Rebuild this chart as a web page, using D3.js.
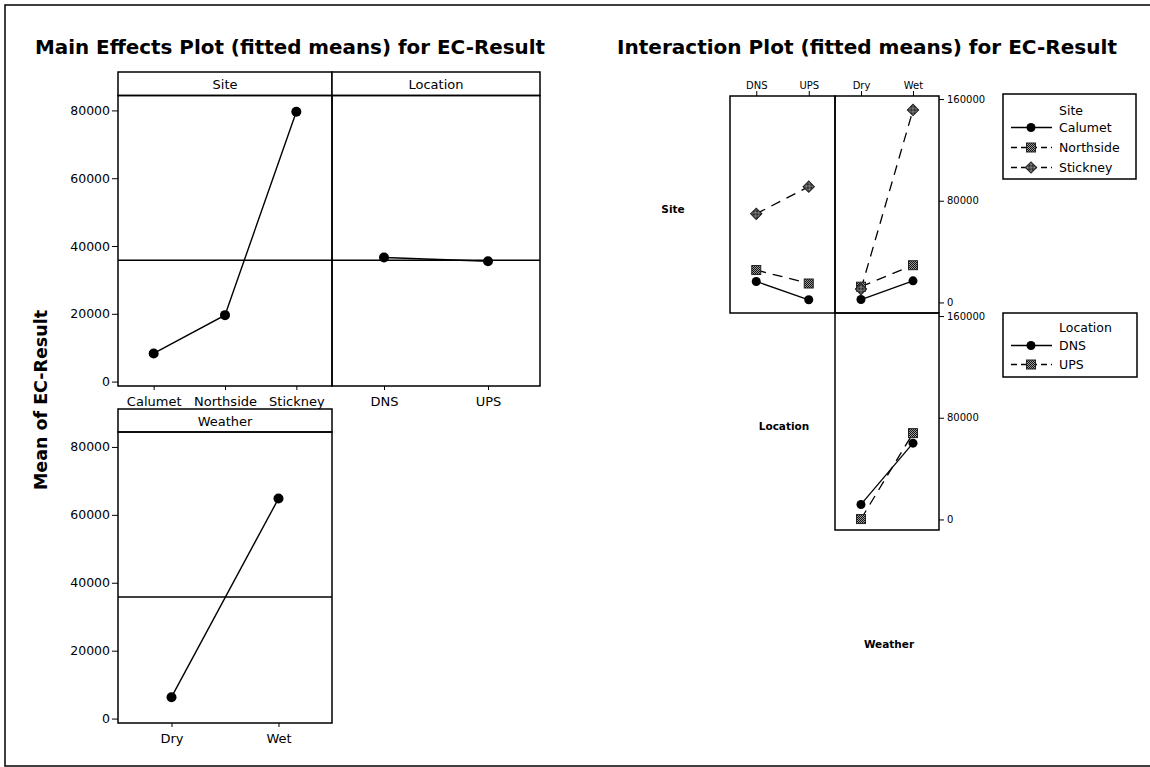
<!DOCTYPE html>
<html><head><meta charset="utf-8">
<script src="https://cdn.jsdelivr.net/npm/d3@7"></script>
<style>
body{margin:0;background:#fff}
svg{display:block}
text{font-family:"DejaVu Sans",Verdana,sans-serif;fill:#000}
</style>
</head><body>
<svg id="c" width="1150" height="767"></svg>
<script>
// ---------- data ----------
const siteCats = ["Calumet", "Northside", "Stickney"];
const locationCats = ["DNS", "UPS"];
const weatherCats = ["Dry", "Wet"];

// main effects (fitted means)
const siteMeans = [8300, 19600, 79600];
const locationMeans = [36600, 35500];
const weatherMeans = [6300, 64800];
const grandMean = 35800;
const meTicks = [0, 20000, 40000, 60000, 80000];

// interaction (fitted means)
const calumetByLocation = [16500, 2100];
const northsideByLocation = [25500, 14900];
const stickneyByLocation = [69700, 91100];
const calumetByWeather = [2300, 17000];
const northsideByWeather = [12400, 29300];
const stickneyByWeather = [10500, 151400];
const dnsByWeather = [11800, 60000];
const upsByWeather = [300, 67900];
const ipTicks = [0, 80000, 160000];

// ---------- setup ----------
const svg = d3.select("#c");
const defs = svg.append("defs");
const pat = defs.append("pattern").attr("id", "hatch").attr("width", 2).attr("height", 2)
  .attr("patternUnits", "userSpaceOnUse");
pat.append("rect").attr("width", 2).attr("height", 2).attr("fill", "#9a9a9a");
pat.append("rect").attr("x", 0).attr("y", 0).attr("width", 1).attr("height", 1).attr("fill", "#111");
pat.append("rect").attr("x", 1).attr("y", 1).attr("width", 1).attr("height", 1).attr("fill", "#111");

// outer border
svg.append("rect").attr("x", 5).attr("y", 5).attr("width", 1160).attr("height", 761)
  .attr("fill", "none").attr("stroke", "#000").attr("stroke-width", 1.5);

// titles
svg.append("text").attr("x", 35).attr("y", 54).attr("font-size", 19).attr("font-weight", "bold")
  .attr("textLength", 510).attr("lengthAdjust", "spacingAndGlyphs")
  .text("Main Effects Plot (fitted means) for EC-Result");
svg.append("text").attr("x", 617).attr("y", 54).attr("font-size", 19).attr("font-weight", "bold")
  .attr("textLength", 500).attr("lengthAdjust", "spacingAndGlyphs")
  .text("Interaction Plot (fitted means) for EC-Result");

// y label
svg.append("text").attr("transform", "translate(47,400) rotate(-90)")
  .attr("text-anchor", "middle").attr("font-size", 17).attr("font-weight", "bold")
  .attr("textLength", 180).attr("lengthAdjust", "spacingAndGlyphs")
  .text("Mean of EC-Result");

// ---------- main effects panels ----------
function mePanel(cats, values, x0, x1, boxTop, stripBottom, boxBottom, title, showY) {
  const g = svg.append("g");
  const y = d3.scaleLinear().domain([-1300, 84400]).range([boxBottom, stripBottom]);
  const x = d3.scalePoint().domain(cats).range([x0, x1]).padding(0.5);
  g.append("rect").attr("x", x0).attr("y", boxTop).attr("width", x1 - x0).attr("height", stripBottom - boxTop)
    .attr("fill", "#fff").attr("stroke", "#000").attr("stroke-width", 1.5);
  g.append("text").attr("x", (x0 + x1) / 2).attr("y", (boxTop + stripBottom) / 2 + 5)
    .attr("text-anchor", "middle").attr("font-size", 13).text(title);
  g.append("rect").attr("x", x0).attr("y", stripBottom).attr("width", x1 - x0).attr("height", boxBottom - stripBottom)
    .attr("fill", "none").attr("stroke", "#000").attr("stroke-width", 1.5);
  g.append("line").attr("x1", x0).attr("x2", x1).attr("y1", y(grandMean)).attr("y2", y(grandMean))
    .attr("stroke", "#000").attr("stroke-width", 1.4);
  const xa = g.append("g").attr("transform", `translate(0,${boxBottom})`)
    .call(d3.axisBottom(x).tickSize(4).tickPadding(7));
  xa.select(".domain").remove();
  xa.selectAll("text").attr("font-size", 13).attr("font-family", "DejaVu Sans").attr("fill", "#000");
  xa.selectAll("line").attr("stroke", "#000");
  if (showY) {
    const ya = g.append("g").attr("transform", `translate(${x0},0)`)
      .call(d3.axisLeft(y).tickValues(meTicks).tickSize(6).tickPadding(2).tickFormat(d3.format("d")));
    ya.select(".domain").remove();
    ya.selectAll("text").attr("font-size", 12.5).attr("font-family", "DejaVu Sans").attr("fill", "#000");
    ya.selectAll("line").attr("stroke", "#000");
  }
  g.append("path").datum(values)
    .attr("d", d3.line().x((d, i) => x(cats[i])).y(d => y(d)))
    .attr("fill", "none").attr("stroke", "#000").attr("stroke-width", 1.4);
  g.selectAll("circle.pt").data(values).join("circle").attr("class", "pt")
    .attr("cx", (d, i) => x(cats[i])).attr("cy", d => y(d)).attr("r", 5).attr("fill", "#000");
}
mePanel(siteCats, siteMeans, 118, 332, 72, 95.5, 386, "Site", true);
mePanel(locationCats, locationMeans, 332, 540, 72, 95.5, 386, "Location", false);
mePanel(weatherCats, weatherMeans, 118, 332, 409, 432, 723, "Weather", true);

// ---------- interaction plot ----------
const siteStyles = [
  {name: "Calumet", dash: null, marker: "circle"},
  {name: "Northside", dash: "10,7", marker: "square"},
  {name: "Stickney", dash: "10,7", marker: "diamond"}
];
const locStyles = [
  {name: "DNS", dash: null, marker: "circle"},
  {name: "UPS", dash: "10,7", marker: "square"}
];

function marker(g, type, cx, cy) {
  if (type === "circle") {
    g.append("circle").attr("cx", cx).attr("cy", cy).attr("r", 4.5).attr("fill", "#000");
  } else if (type === "square") {
    g.append("rect").attr("x", cx - 4.5).attr("y", cy - 4.5).attr("width", 9).attr("height", 9)
      .attr("fill", "url(#hatch)").attr("stroke", "#222").attr("stroke-width", 1);
  } else {
    g.append("rect").attr("x", -4).attr("y", -4).attr("width", 8).attr("height", 8)
      .attr("transform", `translate(${cx},${cy}) rotate(45)`)
      .attr("fill", "url(#hatch)").attr("stroke", "#222").attr("stroke-width", 1);
  }
}

function ipPanel(cats, seriesVals, styles, x0, x1, top, bottom, topAxis, rightAxis) {
  const g = svg.append("g");
  const x = d3.scalePoint().domain(cats).range([x0, x1]).padding(0.5);
  const y = d3.scaleLinear().domain([-8300, 162400]).range([bottom, top]);
  g.append("rect").attr("x", x0).attr("y", top).attr("width", x1 - x0).attr("height", bottom - top)
    .attr("fill", "none").attr("stroke", "#000").attr("stroke-width", 1.5);
  if (topAxis) {
    const ta = g.append("g").attr("transform", `translate(0,${top})`)
      .call(d3.axisTop(x).tickSize(5).tickPadding(2));
    ta.select(".domain").remove();
    ta.selectAll("text").attr("font-size", 10).attr("font-family", "DejaVu Sans").attr("fill", "#000");
    ta.selectAll("line").attr("stroke", "#000");
  }
  if (rightAxis) {
    const ra = g.append("g").attr("transform", `translate(${x1},0)`)
      .call(d3.axisRight(y).tickValues(ipTicks).tickSize(5).tickPadding(3).tickFormat(d3.format("d")));
    ra.select(".domain").remove();
    ra.selectAll("text").attr("font-size", 10).attr("font-family", "DejaVu Sans").attr("fill", "#000");
    ra.selectAll("line").attr("stroke", "#000");
  }
  seriesVals.forEach((vals, k) => {
    const st = styles[k];
    g.append("path").datum(vals)
      .attr("d", d3.line().x((d, i) => x(cats[i])).y(d => y(d)))
      .attr("fill", "none").attr("stroke", "#000").attr("stroke-width", 1.3)
      .attr("stroke-dasharray", st.dash);
  });
  seriesVals.forEach((vals, k) => {
    vals.forEach((v, i) => marker(g, styles[k].marker, x(cats[i]), y(v)));
  });
}

ipPanel(locationCats, [calumetByLocation, northsideByLocation, stickneyByLocation], siteStyles,
  730, 835, 96, 313, true, false);
ipPanel(weatherCats, [calumetByWeather, northsideByWeather, stickneyByWeather], siteStyles,
  835, 939, 96, 313, true, true);
ipPanel(weatherCats, [dnsByWeather, upsByWeather], locStyles,
  835, 939, 313, 530, false, true);

// diagonal labels
[["Site", 673, 213], ["Location", 784, 430], ["Weather", 889, 648]].forEach(([t, cx, cy]) => {
  svg.append("text").attr("x", cx).attr("y", cy).attr("text-anchor", "middle")
    .attr("font-size", 10.5).attr("font-weight", "bold").text(t);
});

// legends
function legend(title, styles, x0, y0, w, h, rowY) {
  const g = svg.append("g");
  g.append("rect").attr("x", x0).attr("y", y0).attr("width", w).attr("height", h)
    .attr("fill", "#fff").attr("stroke", "#000").attr("stroke-width", 1.5);
  g.append("text").attr("x", 1059).attr("y", rowY[0] + 4.5).attr("font-size", 12.5).text(title);
  styles.forEach((st, k) => {
    const yy = rowY[k + 1];
    g.append("line").attr("x1", 1011).attr("x2", 1052).attr("y1", yy).attr("y2", yy)
      .attr("stroke", "#000").attr("stroke-width", 1.3).attr("stroke-dasharray", st.dash ? "6,4" : null);
    marker(g, st.marker, 1031, yy);
    g.append("text").attr("x", 1059).attr("y", yy + 4.5).attr("font-size", 12.5).text(st.name);
  });
}
legend("Site", siteStyles, 1003, 94, 133, 85, [110, 127.5, 147.5, 167.5]);
legend("Location", locStyles, 1003, 313, 134, 64, [327, 345.5, 364.5]);
</script>
</body></html>
